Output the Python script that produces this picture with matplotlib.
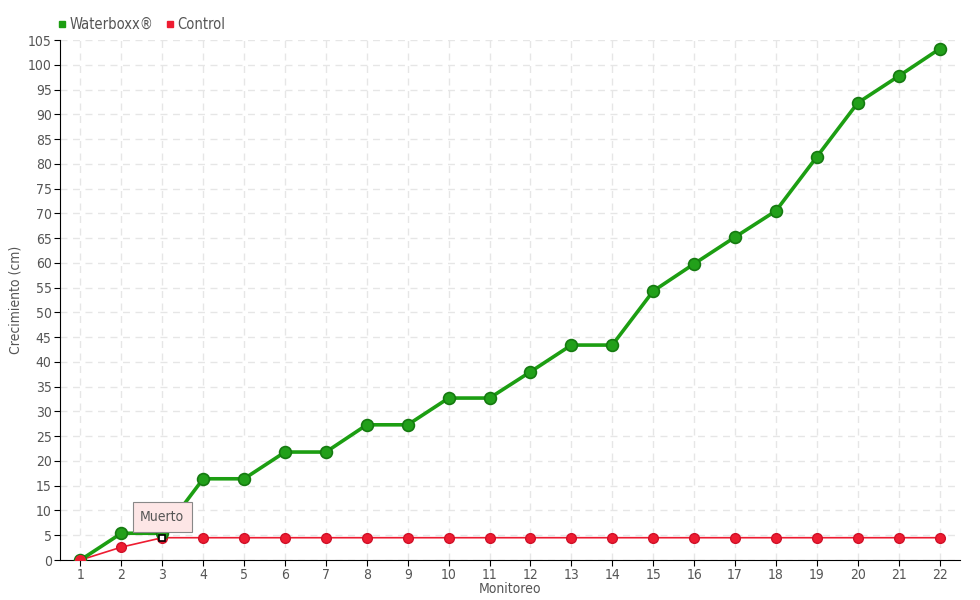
import matplotlib
matplotlib.use("Agg")
import matplotlib.pyplot as plt
from matplotlib.lines import Line2D

monitoreo = list(range(1, 23))
waterboxx = [0, 5.4, 5.4, 16.4, 16.4, 21.8, 21.8, 27.3, 27.3, 32.7, 32.7, 38.0,
             43.4, 43.4, 54.3, 59.8, 65.2, 70.5, 81.4, 92.3, 97.7, 103.2]
control = [0, 2.6, 4.5] + [4.5] * 19
yticks = list(range(0, 110, 5))

plt.rcParams['font.family'] = ['DejaVu Sans']
plt.rcParams['font.stretch'] = 'condensed'

txt = '#555555'
green = '#1c9e12'
red = '#ee1c31'

fig = plt.figure(figsize=(9.8, 6), dpi=100)
ax = fig.add_axes([60/980, 40/600, 900/980, 520/600])

ax.plot(monitoreo, control, color=red, lw=1.2, marker='o', ms=7,
        markerfacecolor=red, markeredgecolor='#d01028', zorder=3)
ax.plot(monitoreo, waterboxx, color=green, lw=2.6, marker='o', ms=8.5,
        markerfacecolor='#22a01a', markeredgecolor='#157a10', markeredgewidth=1.2, zorder=4)
ax.plot([monitoreo[0]], [control[0]], 'o', ms=7, color=red, zorder=5)
ax.plot([monitoreo[2]], [control[2]], 's', ms=5, markerfacecolor='white',
        markeredgecolor='black', markeredgewidth=1.2, zorder=6)
ax.annotate('Muerto', xy=(monitoreo[2], control[2]), xytext=(0, 15),
            textcoords='offset points', ha='center', va='center', fontsize=10, color=txt,
            bbox=dict(boxstyle='square,pad=0.55', fc='#fde6e6', ec='#888888', lw=0.8), zorder=7)

ax.set_xlim(0.5, 22.5)
ax.set_ylim(0, 105)
ax.set_xticks(monitoreo)
ax.set_yticks(yticks)
ax.tick_params(axis='both', colors='black', labelcolor=txt, labelsize=10, length=4, pad=2)
ax.grid(True, color='#e6e6e6', linestyle=(0, (5, 4)), lw=1)
ax.set_axisbelow(True)
for s in ['top', 'right']:
    ax.spines[s].set_visible(False)
ax.spines['left'].set_color('black')
ax.spines['bottom'].set_color('black')
ax.set_xlabel('Monitoreo', color=txt, fontsize=10, labelpad=0)
ax.set_ylabel('Crecimiento (cm)', color=txt, fontsize=10, labelpad=4)

handles = [Line2D([], [], ls='', marker='s', ms=5, color=green, label='Waterboxx®'),
           Line2D([], [], ls='', marker='s', ms=5, color=red, label='Control')]
fig.legend(handles=handles, loc='upper left', bbox_to_anchor=(42/980, 1 - 4/600), ncol=2,
           frameon=False, fontsize=10.5, handletextpad=0.0, columnspacing=0.6,
           labelcolor=txt, handlelength=1.0)

fig.savefig('out.png', dpi=100)
